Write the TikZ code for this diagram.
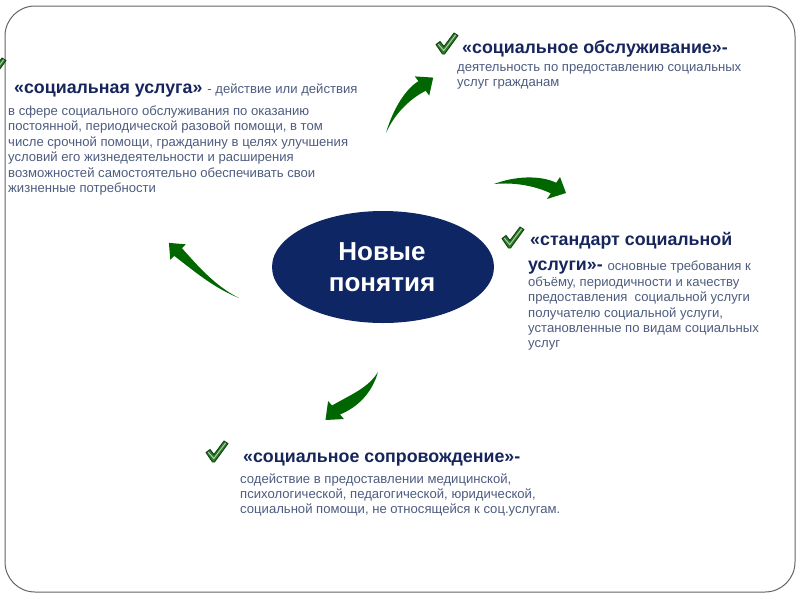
\documentclass[tikz,border=0pt]{standalone}
\usepackage{fontspec}
\setmainfont{Liberation Sans}
\usetikzlibrary{shapes.geometric}
\definecolor{navy}{RGB}{22,38,92}
\definecolor{bodyc}{RGB}{78,92,128}
\definecolor{ellc}{RGB}{14,38,99}
\definecolor{arrowg}{RGB}{0,102,0}
\definecolor{chkg}{RGB}{45,125,40}
\definecolor{chkd}{RGB}{15,65,15}
\definecolor{framec}{RGB}{100,100,100}
\tikzset{
  headtxt/.style={font=\bfseries\fontsize{17.8}{20}\selectfont, text=navy, inner sep=0, anchor=base west},
  bodytxt/.style={font=\fontsize{13.1}{16}\selectfont, text=bodyc, inner sep=0, anchor=base west},
  garrow/.style={fill=arrowg, draw=none},
  chkmark/.pic={
    \filldraw[fill=chkg, draw=chkd, line width=0.9pt, line join=round]
      (0,11.5) -- (4,8.5) -- (8,13.5) -- (18,0) -- (22,2.5) -- (8.5,21) -- (6.5,21) -- cycle;
    \draw[chkg!35!white, line width=0.9pt, line cap=round] (2.5,11.5) -- (7.8,17.5) -- (19.5,2);
  }
}
\newcommand{\bodyrun}[1]{{\mdseries\fontsize{13.1}{16}\selectfont\color{bodyc}#1}}
\begin{document}
\begin{tikzpicture}[x=1pt,y=-1pt]
\useasboundingbox (0,0) rectangle (800,600);
\fill[white] (0,0) rectangle (800,600);
% frame
\draw[framec, line width=1pt, rounded corners=30pt] (5,6) rectangle (795,592);

% center ellipse
\node[ellipse, fill=ellc, minimum width=222, minimum height=112, inner sep=0] (center) at (383,267) {};
\node[font=\bfseries\fontsize{26}{30}\selectfont, text=white, anchor=base, inner sep=0] (cen1) at (382,260) {Новые};
\node[font=\bfseries\fontsize{26}{30}\selectfont, text=white, anchor=base, inner sep=0] (cen2) at (382,291) {понятия};

% arrows
\fill[garrow] (386,133) .. controls (392,112) and (404,90) .. (418.4,81.2) -- (414.8,76.4) -- (433.2,77.6) -- (429.2,95.6) -- (425.6,90.8) .. controls (408,100) and (394,115) .. cycle;
\fill[garrow] (494,184) .. controls (515,176) and (540,175) .. (556.2,182.7) -- (560,177) -- (566,193) -- (547,199) -- (550.8,193.3) .. controls (535,186) and (515,182) .. cycle;
\fill[garrow] (239,298) .. controls (212,287) and (193,270) .. (174.2,255.9) -- (170.3,259.7) -- (168.9,242.9) -- (185.7,244.3) -- (181.9,248.1) .. controls (197,265) and (215,286) .. cycle;
\fill[garrow] (378,372) .. controls (372,393) and (358,407) .. (340,414.5) -- (343.9,419) -- (325.5,420) -- (328.1,401) -- (332,405.5) .. controls (352,394) and (368,388) .. cycle;

% check marks
\pic (ck0) at (-16,58) {chkmark};
\pic (ck1) at (436,33) {chkmark};
\pic (ck2) at (502,227) {chkmark};
\pic (ck3) at (206,441) {chkmark};

% left block
\node[headtxt] (sl) at (14,93.5) {«социальная услуга» \bodyrun{- действие или действия}};
\foreach \t [count=\i] in {{в сфере социального обслуживания по оказанию},
  {постоянной, периодической разовой помощи, в том},
  {числе срочной помощи, гражданину в целях улучшения},
  {условий его жизнедеятельности и расширения},
  {возможностей самостоятельно обеспечивать свои},
  {жизненные потребности}}
  \node[bodytxt] (sl\i) at (8,{115+15.5*(\i-1)}) {\t};

% top right block
\node[headtxt] (so) at (462,53.5) {«социальное обслуживание»-};
\node[bodytxt] (so1) at (457,71) {деятельность по предоставлению социальных};
\node[bodytxt] (so2) at (457,86) {услуг гражданам};

% right block
\node[headtxt] (ss) at (530,245.5) {«стандарт социальной};
\node[headtxt] (ss0) at (528,270) {услуги»- \bodyrun{основные требования к}};
\foreach \t [count=\i] in {{объёму, периодичности и качеству},
  {предоставления\ \ социальной услуги},
  {получателю социальной услуги,},
  {установленные по видам социальных},
  {услуг}}
  \node[bodytxt] (ss\i) at (528,{286.5+15.25*(\i-1)}) {\t};

% bottom block
\node[headtxt] (sp) at (243,462.5) {«социальное сопровождение»-};
\foreach \t [count=\i] in {{содействие в предоставлении медицинской,},
  {психологической, педагогической, юридической,},
  {социальной помощи, не относящейся к соц.услугам.}}
  \node[bodytxt] (sp\i) at (240,{483+15*(\i-1)}) {\t};
\end{tikzpicture}
\end{document}
